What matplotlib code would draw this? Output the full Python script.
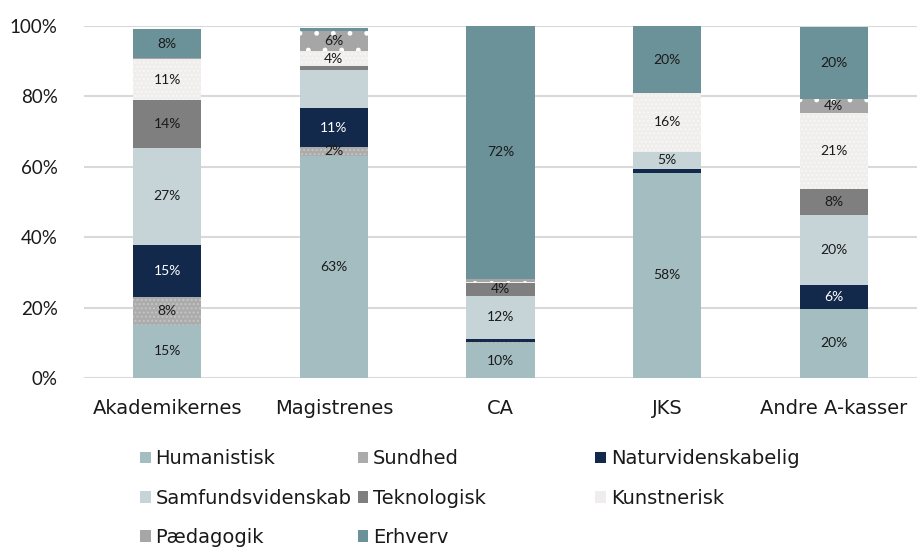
import matplotlib
matplotlib.use("Agg")
import matplotlib.pyplot as plt
import numpy as np
from matplotlib.patches import Patch

plt.rcParams['font.family'] = ['Lato', 'DejaVu Sans']
plt.rcParams['hatch.linewidth'] = 1.0

categories = ["Akademikernes", "Magistrenes", "CA", "JKS", "Andre A-kasser"]

humanistisk       = [15.1, 63.1,  9.9, 58.3, 19.7]
sundhed           = [ 8.0,  2.6,  0.3,  0.0,  0.0]
naturvidenskabelig= [14.7, 10.9,  1.0,  1.1,  6.6]
samfundsvidenskab = [27.6, 10.9, 12.1,  4.9, 19.9]
teknologisk       = [13.6,  1.0,  3.8,  0.0,  7.6]
kunstnerisk       = [11.5,  4.4,  0.3, 16.6, 21.6]
paedagogik        = [ 0.4,  5.7,  0.8,  0.0,  3.9]
erhverv           = [ 8.1,  0.9, 72.0, 19.1, 20.5]

labels_hum   = ["15%", "63%", "10%", "58%", "20%"]
labels_sun   = ["8%", "2%", "", "", ""]
labels_nat   = ["15%", "11%", "", "", "6%"]
labels_sam   = ["27%", "", "12%", "5%", "20%"]
labels_tek   = ["14%", "", "4%", "", "8%"]
labels_kun   = ["11%", "4%", "", "16%", "21%"]
labels_pae   = ["", "6%", "", "", "4%"]
labels_erh   = ["8%", "", "72%", "20%", "20%"]

series = [
    ("Humanistisk", humanistisk, labels_hum, dict(color="#A4BDC1"), "#1a1a1a"),
    ("Sundhed", sundhed, labels_sun, dict(color="#ABABAB", hatch="....", edgecolor="#C4C4C4"), "#1a1a1a"),
    ("Naturvidenskabelig", naturvidenskabelig, labels_nat, dict(color="#13294B"), "#FFFFFF"),
    ("Samfundsvidenskab", samfundsvidenskab, labels_sam, dict(color="#C6D4D8"), "#1a1a1a"),
    ("Teknologisk", teknologisk, labels_tek, dict(color="#7F7F7F"), "#1a1a1a"),
    ("Kunstnerisk", kunstnerisk, labels_kun, dict(color="#EFEEEC", hatch="....", edgecolor="#F7F7F6"), "#1a1a1a"),
    ("Pædagogik", paedagogik, labels_pae, dict(color="#A6A6A6", hatch=".", edgecolor="#FFFFFF"), "#1a1a1a"),
    ("Erhverv", erhverv, labels_erh, dict(color="#6B9199"), "#1a1a1a"),
]

fig = plt.figure(figsize=(9.17, 5.48), dpi=100)
ax = fig.add_axes([0.0916, 0.3102, 0.9084, 0.6424])

x = np.arange(len(categories))
bottom = np.zeros(len(categories))
handles = {}
for name, vals, labs, style, tcol in series:
    v = np.array(vals) / 100.0
    ax.bar(x, v, 0.41, bottom=bottom, linewidth=0, zorder=3, label=name, **style)
    for i, lab in enumerate(labs):
        if lab:
            ax.text(x[i], bottom[i] + v[i] / 2, lab, ha="center", va="center",
                    fontsize=10, color=tcol, zorder=4)
    handles[name] = Patch(linewidth=0, **style)
    bottom += v

ax.set_xlim(-0.5, 4.5)
ax.set_ylim(0, 1.0)
yt = np.arange(0, 1.01, 0.2)
ax.set_yticks(yt)
ax.set_yticklabels([f"{int(round(t*100))}%" for t in yt], fontsize=13.5, color="#1a1a1a")
ax.set_xticks(x)
ax.set_xticklabels(categories, fontsize=14, color="#1a1a1a", family="DejaVu Sans")
ax.tick_params(axis="both", length=0)
ax.tick_params(axis="x", pad=15)
ax.tick_params(axis="y", pad=19)
for s in ax.spines.values():
    s.set_visible(False)
ax.yaxis.grid(True, color="#D9D9D9", linewidth=1.5, zorder=0)
ax.set_axisbelow(True)

cols = [
    (["Humanistisk", "Samfundsvidenskab", "Pædagogik"], 0.1527),
    (["Sundhed", "Teknologisk", "Erhverv"], 0.390),
    (["Naturvidenskabelig", "Kunstnerisk"], 0.649),
]
for names, xpos in cols:
    leg = fig.legend([handles[n] for n in names], names, loc="upper left",
                     bbox_to_anchor=(xpos, 0.180), frameon=False,
                     prop=dict(family="DejaVu Sans", size=14),
                     handlelength=0.55, handleheight=0.55, handletextpad=0.25,
                     labelspacing=1.05, borderaxespad=0, borderpad=0)
    for t in leg.get_texts():
        t.set_color("#1a1a1a")

fig.savefig("out.png", dpi=100)
